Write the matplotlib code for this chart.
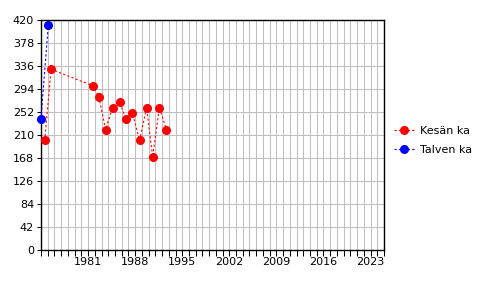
import matplotlib
matplotlib.use("Agg")
import matplotlib.pyplot as plt
import numpy as np

# Data
summer_x = [1974.55, 1975.5, 1981.7, 1982.6, 1983.6, 1984.65, 1985.7, 1986.6,
            1987.6, 1988.65, 1989.7, 1990.6, 1991.6, 1992.65]
summer_y = [200, 330, 300, 280, 220, 260, 270, 240, 250, 200, 260, 170, 260, 220]
winter_x = [1974.0, 1975.08]
winter_y = [240, 410]

year_labels = [1981, 1988, 1995, 2002, 2009, 2016, 2023]
y_ticks = list(range(0, 421, 42))

fig = plt.figure(figsize=(4.96, 2.96), dpi=100)
ax = fig.add_axes([41 / 496, 1 - 250 / 296, 343 / 496, 230 / 296])

ax.plot(summer_x, summer_y, color='red', linestyle=(0, (2, 2)), linewidth=0.8,
        marker='o', markersize=5.5, label='Kesän ka', clip_on=False, zorder=3)
ax.plot(winter_x, winter_y, color='blue', linestyle=(0, (2, 2)), linewidth=0.8,
        marker='o', markersize=5.5, label='Talven ka', clip_on=False, zorder=3)

ax.set_xlim(1974, 2025)
ax.set_ylim(0, 420)

# Year gridlines and small ticks every year, labels every 7 years
ax.set_xticks(np.arange(1974, 2026), minor=True)
ax.set_xticks(year_labels)
ax.set_xticklabels([str(y) for y in year_labels])
ax.set_yticks(y_ticks)
ax.grid(True, which='both', color='#c0c0c0', linewidth=0.75)
ax.set_axisbelow(True)
ax.tick_params(axis='x', which='both', direction='out', length=4, width=0.75,
               labelsize=8, pad=1)
ax.tick_params(axis='y', direction='out', length=3, width=0.75, labelsize=8, pad=2)

for s in ax.spines.values():
    s.set_color('black')
    s.set_linewidth(1)

ax.legend(loc='center left', bbox_to_anchor=(1.0, 0.475), frameon=False,
          fontsize=8, handlelength=1.8, handletextpad=0.5, labelspacing=0.8,
          borderaxespad=0.5)

fig.savefig('out.png', dpi=100)
